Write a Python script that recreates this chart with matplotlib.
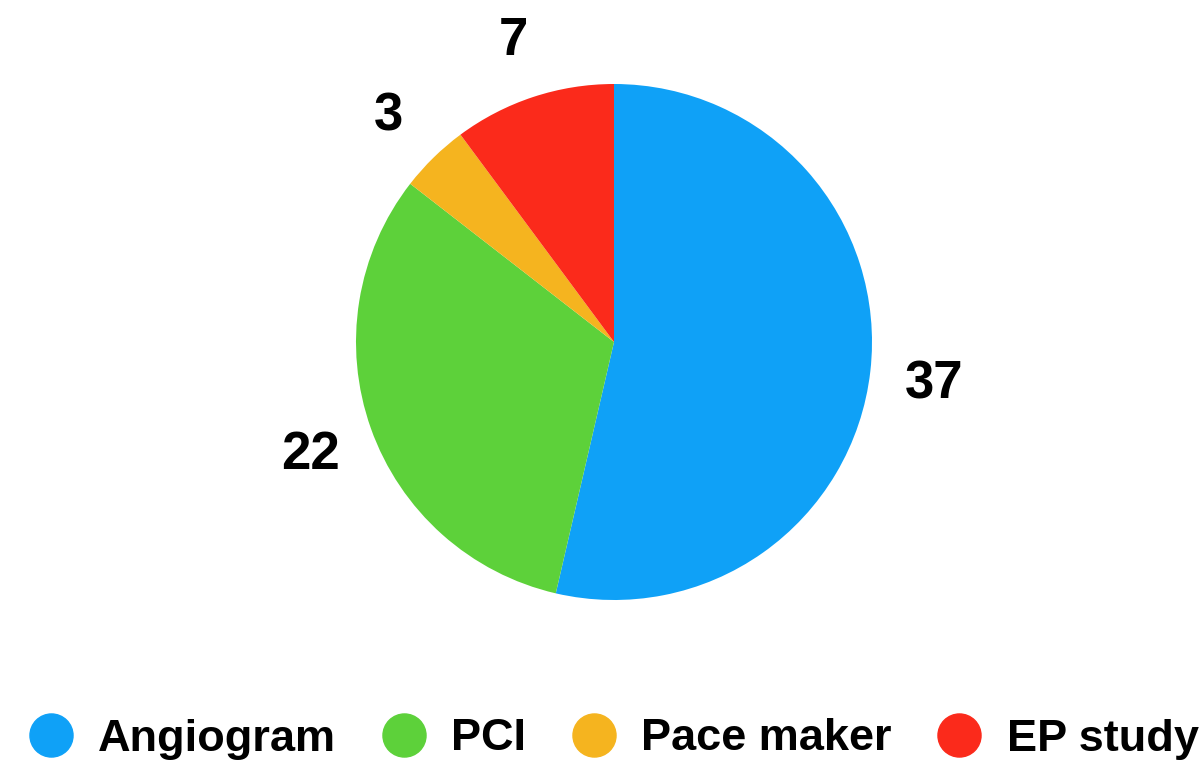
import matplotlib.pyplot as plt
from matplotlib.lines import Line2D

procedures = ['Angiogram', 'PCI', 'Pace maker', 'EP study']
counts = [37, 22, 3, 7]
colors = ['#0fa1f7', '#5dd13a', '#f5b41f', '#fb2a1b']

plt.rcParams['font.family'] = ['Liberation Sans', 'DejaVu Sans']
plt.rcParams['font.weight'] = 'bold'

fig = plt.figure(figsize=(12.04, 7.64), dpi=100)
# pie area: centre ~ (614, 342) px, radius ~258 px
W, H = 1204.0, 764.0
r = 258.0
ax = fig.add_axes([(614 - r) / W, (H - 342 - r) / H, 2 * r / W, 2 * r / H])

wedges, texts = ax.pie(counts, labels=[str(c) for c in counts], colors=colors,
                       startangle=90, counterclock=False, labeldistance=1.25,
                       wedgeprops={'linewidth': 0},
                       textprops={'fontsize': 38, 'fontweight': 'bold', 'color': 'black'})
for t in texts:
    t.set_horizontalalignment('center')
    t.set_verticalalignment('center_baseline')
ax.set_xlim(-1, 1)
ax.set_ylim(-1, 1)
ax.set_aspect('equal')

handles = [Line2D([], [], linestyle='none', marker='o', markersize=31,
                  markerfacecolor=c, markeredgecolor=c) for c in colors]
fig.legend(handles, procedures, loc='center', bbox_to_anchor=(613.5 / W, 1 - 739 / H),
           ncol=4, frameon=False, fontsize=32.5, handlelength=1.0,
           handletextpad=0.55, columnspacing=1.0, borderaxespad=0)

fig.savefig('out.png', dpi=100)
